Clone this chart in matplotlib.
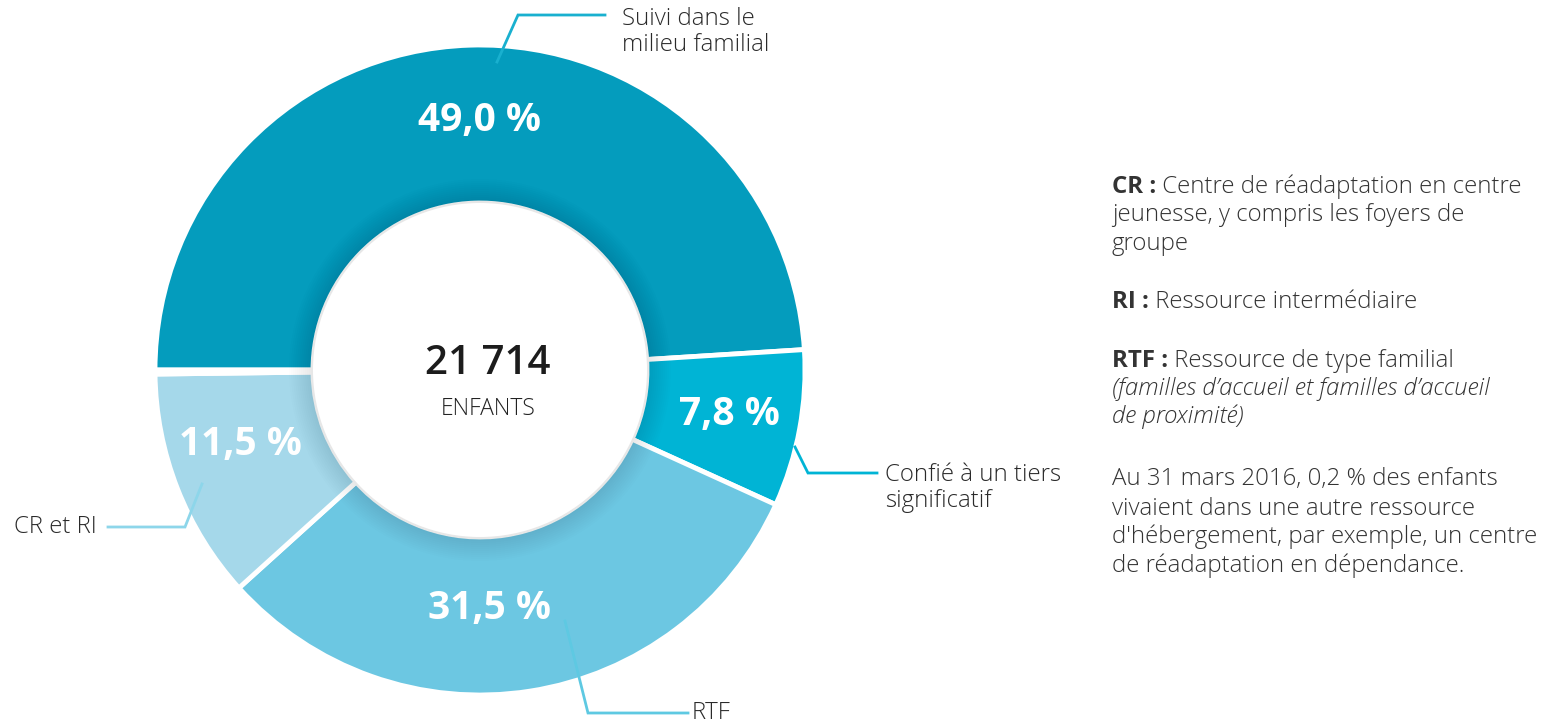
import matplotlib.pyplot as plt
from matplotlib.patches import Circle

plt.rcParams['font.family'] = ['Open Sans', 'DejaVu Sans']

# Données
categories = ["Suivi dans le\nmilieu familial", "Confié à un tiers\nsignificatif", "RTF", "CR et RI", "Autre"]
valeurs = [49.0, 7.8, 31.5, 11.5, 0.2]
etiquettes = ["49,0 %", "7,8 %", "31,5 %", "11,5 %", ""]
couleurs = ["#049cbd", "#00b4d5", "#6cc7e2", "#a5d8ea", "white"]
couleurs_traits = ["#19b0cf", "#00b4d5", "#5ec9e2", "#8dd6ea"]
total_enfants = "21 714"
unite = "ENFANTS"

W, H = 1556, 724
fig = plt.figure(figsize=(W / 100, H / 100), dpi=100)
ax = fig.add_axes([0, 0, 1, 1])

# On travaille en pixels, y vers le haut
def py(y):
    return H - y

cx, cy = 480, py(370)
r_ext, r_int = 325, 167

wedges, _ = ax.pie(valeurs, colors=couleurs, startangle=180, counterclock=False,
                   radius=r_ext, center=(cx, cy),
                   wedgeprops=dict(width=r_ext - r_int, edgecolor="white", linewidth=3.5))

# léger ombrage autour du cercle intérieur
for i in range(12):
    ax.add_patch(Circle((cx, cy), r_int + 24 - 2 * i, facecolor="black", alpha=0.008, lw=0, zorder=2))
ax.add_patch(Circle((cx, cy), r_int, facecolor="white", lw=0, zorder=3))

# pourcentages
pos_pct = [(480, 120), (729, 415), (490, 608), (240, 445)]
for (x, y), txt in zip(pos_pct, etiquettes[:4]):
    ax.text(x, py(y), txt, color="white", fontsize=28, fontweight="bold",
            ha="center", va="center", zorder=5)

# centre
ax.text(488, py(364), total_enfants, fontsize=29, fontweight="semibold", color="#1c1c1c",
        ha="center", va="center", zorder=5)
ax.text(488, py(409), unite, fontsize=16.5, color="#222222", ha="center", va="center",
        fontweight="light", zorder=5)

# traits de rappel
traits = [
    [(497, 62), (518, 15), (605, 15)],
    [(795, 447), (808, 473), (877, 473)],
    [(565, 621), (588, 713), (688, 713)],
    [(202, 484), (185, 527), (108, 527)],
]
for pts, c in zip(traits, couleurs_traits):
    ax.plot([p[0] for p in pts], [py(p[1]) for p in pts], color=c, lw=2, zorder=6,
            solid_joinstyle="miter")

fs = 17.3
lab_style = dict(fontsize=fs, color="#2a2a2a", linespacing=1.15, zorder=6, fontweight="light")
ax.text(622, py(32), categories[0], ha="left", va="center", **lab_style)
ax.text(885, py(488), categories[1], ha="left", va="center", **lab_style)
ax.text(692, py(713), categories[2], ha="left", va="center", **lab_style)
ax.text(97, py(527), categories[3], ha="right", va="center", **lab_style)

# notes à droite
x0 = 1112
txt_style = dict(fontsize=fs, color="#333333", va="baseline", fontweight="light")

def ligne_bold(y, gras, reste):
    t = ax.text(x0, py(y), gras, fontsize=fs, color="#333333", va="baseline", fontweight="bold")
    ax.annotate(reste, xy=(1, 0), xycoords=t, ha="left", va="bottom",
                fontsize=fs, color="#333333", fontweight="light")

ligne_bold(193, "CR :", " Centre de réadaptation en centre")
ax.text(x0, py(221), "jeunesse, y compris les foyers de", **txt_style)
ax.text(x0, py(250), "groupe", **txt_style)
ligne_bold(308, "RI :", " Ressource intermédiaire")
ligne_bold(367, "RTF :", " Ressource de type familial")
ax.text(x0, py(395), "(familles d’accueil et familles d’accueil", style="italic", **txt_style)
ax.text(x0, py(423), "de proximité)", style="italic", **txt_style)
notes = ["Au 31 mars 2016, 0,2 % des enfants",
         "vivaient dans une autre ressource",
         "d'hébergement, par exemple, un centre",
         "de réadaptation en dépendance."]
for y, l in zip([485, 515, 543, 572], notes):
    ax.text(x0, py(y), l, **txt_style)

ax.set_xlim(0, W)
ax.set_ylim(0, H)
ax.set_aspect("equal")
ax.axis("off")

fig.savefig("out.png", dpi=100)
